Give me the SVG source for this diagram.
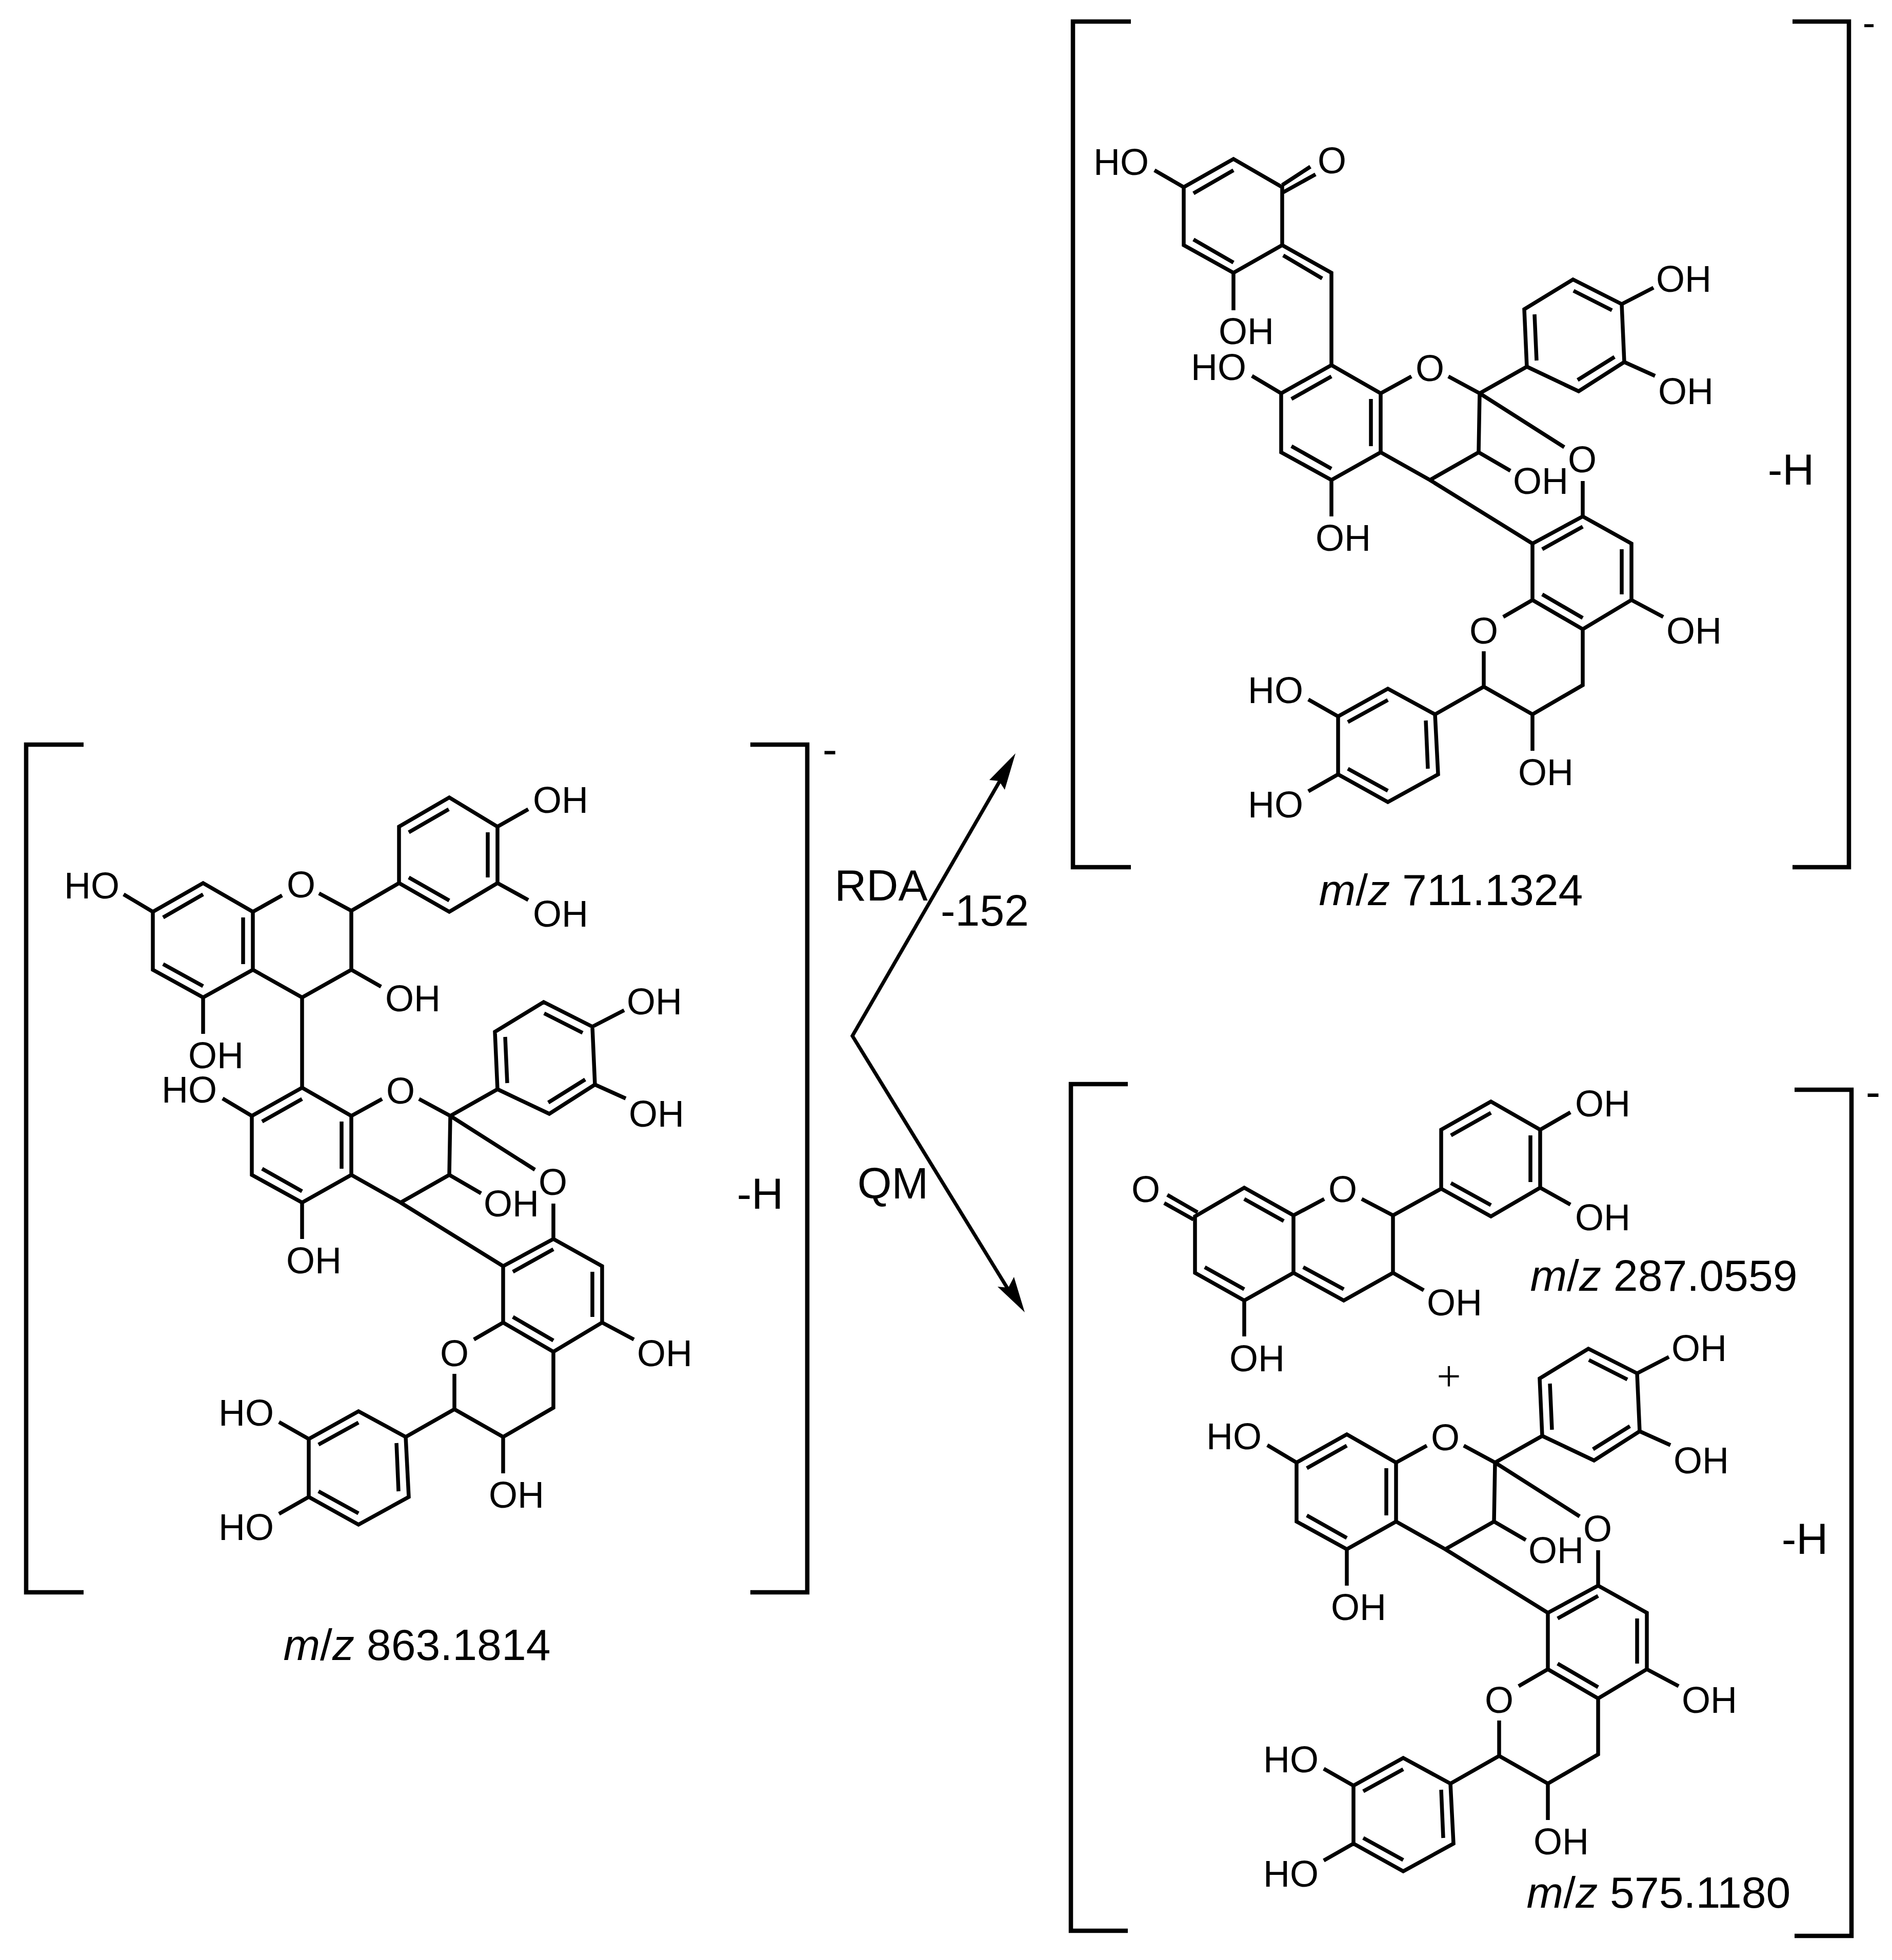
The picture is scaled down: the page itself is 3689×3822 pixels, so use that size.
<svg xmlns="http://www.w3.org/2000/svg" width="3689" height="3822" viewBox="0 0 3689 3822">
<style>
text{font-family:"Liberation Sans",Arial,sans-serif;fill:#000}
.a{font-size:72px;text-anchor:middle}
.l{font-size:86px;text-anchor:middle}
.m{font-size:86px;text-anchor:middle}
.b{fill:none;stroke:#000;stroke-width:7.5;stroke-linejoin:miter;stroke-linecap:butt}
.k{fill:none;stroke:#000;stroke-width:8.5}
.c{fill:none;stroke:#000;stroke-width:7}
</style>
<rect width="3689" height="3822" fill="#fff"/>
<g id="connectors">
<path class="c" d="M1950 1522L1662 2020L1968 2518" stroke-linejoin="miter"/>
<path d="M1980 1469L1959 1540L1948 1523L1929 1521Z" fill="#000"/>
<path d="M1998 2559L1945 2509L1966 2511L1977 2490Z" fill="#000"/>
</g>
<g id="reaction-labels">
<text class="l" x="1718" y="1756">RDA</text>
<text class="l" x="1920" y="1805">-152</text>
<text class="l" x="1741" y="2337">QM</text>
</g>
<g id="mol-863">
<path class="k" d="M163 1452H51V3105H163M1463 1452H1574V3105H1463"/>
<text class="l" x="1618" y="1490">-</text>
<text class="l" x="1482" y="2357">-H</text>
<text class="m" x="813" y="3237"><tspan font-style="italic">m</tspan>/<tspan font-style="italic">z</tspan> 863.1814</text>
<g id="mol-863-top">
<path class="b" d="M298 1778L396 1722L493 1778V1891L396 1945L298 1891ZM493 1778L550 1746M622 1742L685 1776V1891L589 1945L493 1891M685 1776L778 1722V1612L876 1555L970 1612V1722L876 1778L778 1722M970 1612L1030 1578M970 1722L1030 1755M685 1891L743 1924M396 1945V2016M298 1778L241 1744M589 1945V2121"/>
<path class="b" d="M318 1789L396 1744M474 1789V1880M396 1923L318 1880M797 1711L876 1756M797 1623L875 1578M951 1623V1711"/>
<text class="a" x="587" y="1750">O</text>
<text class="a" x="1093" y="1585">OH</text>
<text class="a" x="1093" y="1807">OH</text>
<text class="a" x="805" y="1972">OH</text>
<text class="a" x="421" y="2083">OH</text>
<text class="a" x="179" y="1752">HO</text>
</g>
<g id="mol-863-dimer">
<path class="b" d="M589 2121L685 2176V2291L589 2345L491 2291V2176ZM685 2176L745 2143M817 2143L878 2176L876 2291L781 2345L685 2291M491 2176L434 2142M589 2345V2416M876 2291L938 2327M878 2176L970 2124L965 2012L1060 1954L1155 2002L1160 2115L1071 2172L970 2124M1155 2002L1217 1970M1160 2115L1220 2142M878 2176L1043 2281M1079 2347V2416M981 2469L1079 2416L1174 2469V2579L1079 2636L981 2579ZM781 2345L981 2469M981 2579L924 2612M886 2679V2748L981 2802L1079 2745V2636M1174 2579L1236 2612M981 2802V2873M886 2748L791 2802L797 2919L699 2973L602 2919V2806L699 2752L791 2802M602 2806L544 2773M602 2919L544 2952"/>
<path class="b" d="M511 2187L589 2143M666 2187V2279M589 2323L511 2279M989 2112L985 2022M1061 1976L1136 2014M1141 2105L1069 2150M1000 2480L1079 2436M1155 2480V2568M1079 2614L1000 2568M621 2817L699 2774M773 2814L777 2908M699 2951L621 2908"/>
<text class="a" x="781" y="2152">O</text>
<text class="a" x="369" y="2150">HO</text>
<text class="a" x="612" y="2483">OH</text>
<text class="a" x="997" y="2372">OH</text>
<text class="a" x="1276" y="1978">OH</text>
<text class="a" x="1280" y="2197">OH</text>
<text class="a" x="1078" y="2330">O</text>
<text class="a" x="886" y="2664">O</text>
<text class="a" x="1296" y="2664">OH</text>
<text class="a" x="1007" y="2940">OH</text>
<text class="a" x="480" y="2780">HO</text>
<text class="a" x="480" y="3003">HO</text>
</g>
</g>
<g id="mol-711">
<path class="k" d="M2205 42H2092V1691H2205M3495 42H3605V1691H3495"/>
<text x="3644" y="70" style="font-size:74px;text-anchor:middle">-</text>
<text class="l" x="3492" y="945">-H</text>
<text class="m" x="2829" y="1765"><tspan font-style="italic">m</tspan>/<tspan font-style="italic">z</tspan> 711.1324</text>
<g id="mol-711-top">
<path class="b" d="M2596 712V532L2500 478V365L2405 310L2308 365V478L2405 532L2500 478M2308 365L2251 332M2405 532V605"/>
<path class="b" d="M2327 377L2405 332M2327 467L2405 512M2502 498L2578 543M2500 361L2555 325M2502 375L2565 340"/>
<text class="a" x="2597" y="338">O</text>
<text class="a" x="2186" y="341">HO</text>
<text class="a" x="2430" y="671">OH</text>
</g>
<g id="mol-711-dimer" transform="translate(2007 -1409)">
<path class="b" d="M589 2121L685 2176V2291L589 2345L491 2291V2176ZM685 2176L745 2143M817 2143L878 2176L876 2291L781 2345L685 2291M491 2176L434 2142M589 2345V2416M876 2291L938 2327M878 2176L970 2124L965 2012L1060 1954L1155 2002L1160 2115L1071 2172L970 2124M1155 2002L1217 1970M1160 2115L1220 2142M878 2176L1043 2281M1079 2347V2416M981 2469L1079 2416L1174 2469V2579L1079 2636L981 2579ZM781 2345L981 2469M981 2579L924 2612M886 2679V2748L981 2802L1079 2745V2636M1174 2579L1236 2612M981 2802V2873M886 2748L791 2802L797 2919L699 2973L602 2919V2806L699 2752L791 2802M602 2806L544 2773M602 2919L544 2952"/>
<path class="b" d="M511 2187L589 2143M666 2187V2279M589 2323L511 2279M989 2112L985 2022M1061 1976L1136 2014M1141 2105L1069 2150M1000 2480L1079 2436M1155 2480V2568M1079 2614L1000 2568M621 2817L699 2774M773 2814L777 2908M699 2951L621 2908"/>
<text class="a" x="781" y="2152">O</text>
<text class="a" x="369" y="2150">HO</text>
<text class="a" x="612" y="2483">OH</text>
<text class="a" x="997" y="2372">OH</text>
<text class="a" x="1276" y="1978">OH</text>
<text class="a" x="1280" y="2197">OH</text>
<text class="a" x="1078" y="2330">O</text>
<text class="a" x="886" y="2664">O</text>
<text class="a" x="1296" y="2664">OH</text>
<text class="a" x="1007" y="2940">OH</text>
<text class="a" x="480" y="2780">HO</text>
<text class="a" x="480" y="3003">HO</text>
</g>
</g>
<g id="mol-products">
<path class="k" d="M2199 2114H2088V3765H2199M3499 2125H3610V3775H3499"/>
<text class="l" x="3652" y="2158">-</text>
<text class="l" x="3519" y="3030">-H</text>
<text class="m" x="3244" y="2517"><tspan font-style="italic">m</tspan>/<tspan font-style="italic">z</tspan> 287.0559</text>
<text class="m" x="3234" y="3720"><tspan font-style="italic">m</tspan>/<tspan font-style="italic">z</tspan> 575.1180</text>
<text x="2825" y="2712" style="font-family:'Liberation Serif',serif;font-size:84px;text-anchor:middle">+</text>
<g id="mol-287">
<path class="b" d="M2330 2372L2426 2316L2522 2370V2482L2426 2536L2330 2482ZM2522 2370L2582 2338M2655 2338L2716 2370V2482L2620 2536L2522 2482M2716 2370L2810 2318V2203L2907 2148L3003 2203V2316L2907 2372L2810 2318M3003 2203L3062 2169M3003 2316L3062 2349M2716 2482L2776 2516M2426 2536V2606"/>
<path class="b" d="M2426 2338L2503 2381M2349 2471L2426 2514M2541 2471L2620 2514M2829 2214L2907 2170M2984 2214V2305M2829 2307L2907 2350M2270 2346L2327 2378M2276 2330L2335 2364"/>
<text class="a" x="2234" y="2344">O</text>
<text class="a" x="2618" y="2344">O</text>
<text class="a" x="3125" y="2177">OH</text>
<text class="a" x="3125" y="2399">OH</text>
<text class="a" x="2836" y="2565">OH</text>
<text class="a" x="2451" y="2674">OH</text>
</g>
<g id="mol-575" transform="translate(2037 676)">
<path class="b" d="M589 2121L685 2176V2291L589 2345L491 2291V2176ZM685 2176L745 2143M817 2143L878 2176L876 2291L781 2345L685 2291M491 2176L434 2142M589 2345V2416M876 2291L938 2327M878 2176L970 2124L965 2012L1060 1954L1155 2002L1160 2115L1071 2172L970 2124M1155 2002L1217 1970M1160 2115L1220 2142M878 2176L1043 2281M1079 2347V2416M981 2469L1079 2416L1174 2469V2579L1079 2636L981 2579ZM781 2345L981 2469M981 2579L924 2612M886 2679V2748L981 2802L1079 2745V2636M1174 2579L1236 2612M981 2802V2873M886 2748L791 2802L797 2919L699 2973L602 2919V2806L699 2752L791 2802M602 2806L544 2773M602 2919L544 2952"/>
<path class="b" d="M511 2187L589 2143M666 2187V2279M589 2323L511 2279M989 2112L985 2022M1061 1976L1136 2014M1141 2105L1069 2150M1000 2480L1079 2436M1155 2480V2568M1079 2614L1000 2568M621 2817L699 2774M773 2814L777 2908M699 2951L621 2908"/>
<text class="a" x="781" y="2152">O</text>
<text class="a" x="369" y="2150">HO</text>
<text class="a" x="612" y="2483">OH</text>
<text class="a" x="997" y="2372">OH</text>
<text class="a" x="1276" y="1978">OH</text>
<text class="a" x="1280" y="2197">OH</text>
<text class="a" x="1078" y="2330">O</text>
<text class="a" x="886" y="2664">O</text>
<text class="a" x="1296" y="2664">OH</text>
<text class="a" x="1007" y="2940">OH</text>
<text class="a" x="480" y="2780">HO</text>
<text class="a" x="480" y="3003">HO</text>
</g>
</g>
</svg>
